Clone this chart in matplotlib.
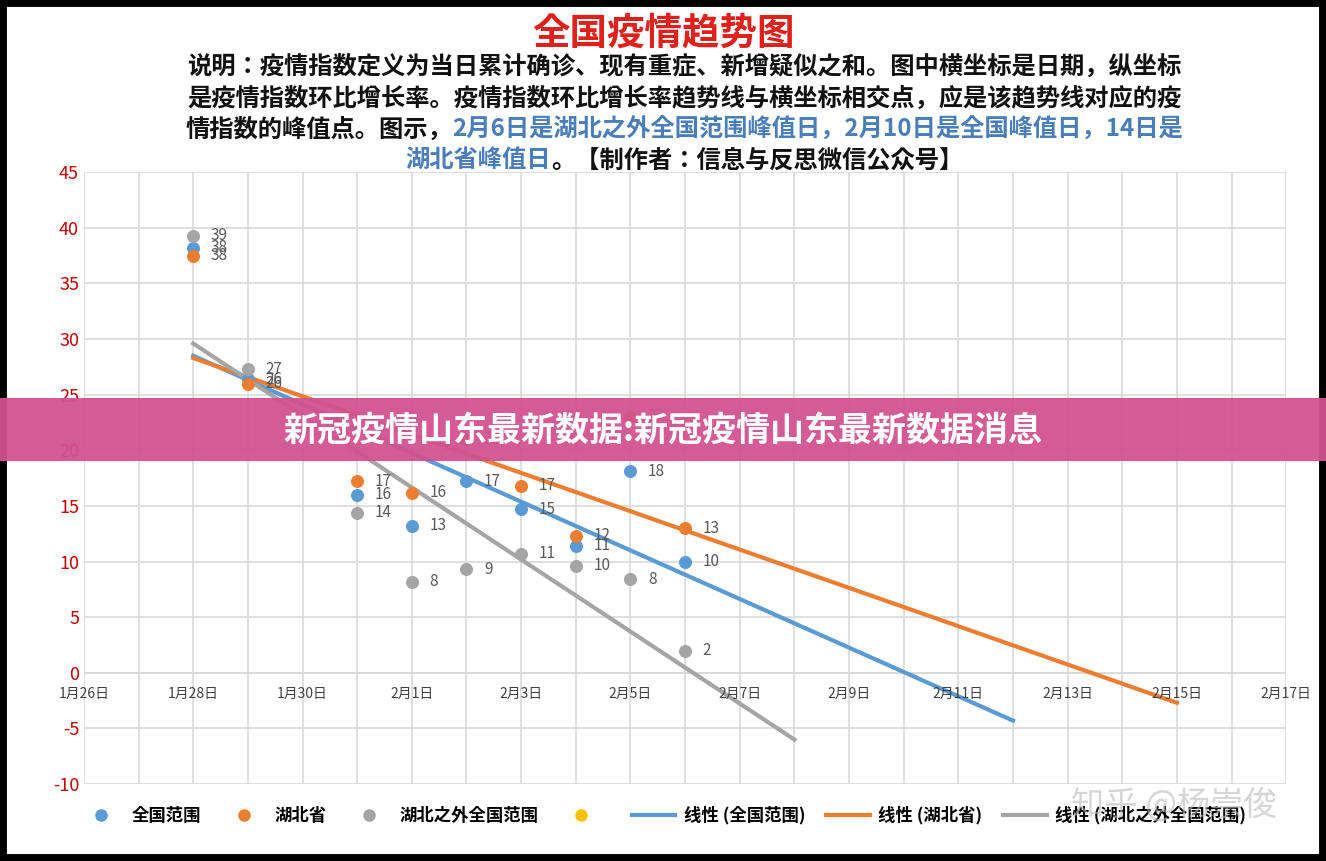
import matplotlib
matplotlib.use("Agg")
import matplotlib.pyplot as plt
import numpy as np
from matplotlib.offsetbox import TextArea, HPacker, VPacker, AnchoredOffsetbox
from matplotlib.patches import Rectangle
from matplotlib import font_manager as fm

names = {f.name for f in fm.fontManager.ttflist}
cjk = next((n for n in ["Noto Sans CJK SC", "Noto Sans CJK JP", "Noto Sans CJK TC", "Noto Sans CJK KR"] if n in names), "DejaVu Sans")
plt.rcParams["font.family"] = [cjk, "DejaVu Sans"]

nan = float("nan")
# day offsets from Jan 26
days = [2, 3, 4, 5, 6, 7, 8, 9, 10, 11]
national = [38.2, 26.4, nan, 16, 13.2, 17.2, 14.7, 11.4, 18.1, 10]
hubei = [37.5, 26, 22, 17.2, 16.2, 21, 16.8, 12.3, 23, 13]
outside = [39.3, 27.3, nan, 14.4, 8.2, 9.3, 10.7, 9.6, 8.4, 2]
nat_lbl = [38, 26, 21, 16, 13, 17, 15, 11, 18, 10]
hub_lbl = [38, 26, 22, 17, 16, 21, 17, 12, 23, 13]
out_lbl = [39, 27, 20, 14, 8, 9, 11, 10, 8, 2]
# trendline endpoints (day, value)
trend_nat = ([2, 17], [28.5, -4.3])
trend_hub = ([2, 20], [28.3, -2.7])
trend_out = ([2, 13], [29.6, -6.0])
xtick_labels = ["1月26日", "1月28日", "1月30日", "2月1日", "2月3日", "2月5日",
                "2月7日", "2月9日", "2月11日", "2月13日", "2月15日", "2月17日"]

BLUE, ORANGE, GRAY, YELLOW = "#5B9BD5", "#ED7D31", "#A5A5A5", "#FFC000"

fig = plt.figure(figsize=(13.26, 8.61), dpi=100)
fig.patches.append(Rectangle((0, 0), 1, 1, transform=fig.transFigure, fill=False,
                             edgecolor="black", linewidth=10))
ax = fig.add_axes([0.0633, 0.0894, 0.9067, 0.7106])
ax.set_xlim(0, 22)
ax.set_ylim(-10, 45)
ax.set_xticks(range(0, 23, 2))
ax.set_xticks(range(0, 23, 1), minor=True)
ax.set_yticks(range(-10, 46, 5))
ax.grid(True, which="both", color="#D9D9D9", linewidth=1.2)
ax.tick_params(which="both", length=0)
ax.set_xticklabels([])
for i, lab in enumerate(xtick_labels):
    ax.text(i * 2, -1.3, lab, ha="center", va="top", fontsize=10, color="#404040",
            clip_on=False)
ax.set_yticklabels([str(v) for v in range(-10, 46, 5)], color="#C00000", fontsize=13)
for s in ax.spines.values():
    s.set_visible(False)
ax.axhline(0, color="#D9D9D9", linewidth=1.2)

ax.plot(*trend_nat, color=BLUE, lw=3, zorder=2)
ax.plot(*trend_hub, color=ORANGE, lw=3, zorder=2)
ax.plot(*trend_out, color=GRAY, lw=3, zorder=2)
for ys, ls, c in [(national, nat_lbl, BLUE), (hubei, hub_lbl, ORANGE), (outside, out_lbl, GRAY)]:
    ax.scatter(days, ys, s=70, color=c, zorder=3)
    for d, y, l in zip(days, ys, ls):
        if not np.isnan(y):
            ax.text(d + 0.32, y, str(l), fontsize=11, color="#595959", va="center", zorder=4)

handles = [
    plt.Line2D([], [], marker="o", ls="", color=BLUE, ms=8),
    plt.Line2D([], [], marker="o", ls="", color=ORANGE, ms=8),
    plt.Line2D([], [], marker="o", ls="", color=GRAY, ms=8),
    plt.Line2D([], [], marker="o", ls="", color=YELLOW, ms=8),
    plt.Line2D([], [], color=BLUE, lw=3),
    plt.Line2D([], [], color=ORANGE, lw=3),
    plt.Line2D([], [], color=GRAY, lw=3),
]
labels = ["全国范围", "湖北省", "湖北之外全国范围", "", "线性 (全国范围)", "线性 (湖北省)", "线性 (湖北之外全国范围)"]
fig.legend(handles, labels, loc="center", bbox_to_anchor=(0.5, 0.053), ncol=7,
           frameon=False, handlelength=2.5, columnspacing=1.2, handletextpad=0.5,
           prop={"family": cjk, "weight": "bold", "size": 12.5})

fig.text(0.5, 0.962, "全国疫情趋势图", ha="center", va="center", fontsize=27,
         color="#E0201B", fontweight="bold")

def ta(s, c):
    return TextArea(s, textprops=dict(color=c, fontsize=17.5, fontweight="bold"))
K, B2 = "#111111", "#4A7EBB"
rows = [
    HPacker(children=[ta("说明：疫情指数定义为当日累计确诊、现有重症、新增疑似之和。图中横坐标是日期，纵坐标", K)], pad=0, sep=0),
    HPacker(children=[ta("是疫情指数环比增长率。疫情指数环比增长率趋势线与横坐标相交点，应是该趋势线对应的疫", K)], pad=0, sep=0),
    HPacker(children=[ta("情指数的峰值点。图示，", K), ta("2月6日是湖北之外全国范围峰值日，2月10日是全国峰值日，14日是", B2)], pad=0, sep=0),
    HPacker(children=[ta("湖北省峰值日", B2), ta("。【制作者：信息与反思微信公众号】", K)], pad=0, sep=0),
]
vp = VPacker(children=rows, align="center", pad=0, sep=5)
ab = AnchoredOffsetbox(loc="center", child=vp, frameon=False,
                       bbox_to_anchor=(0.516, 0.868), bbox_transform=fig.transFigure, pad=0)
fig.add_artist(ab)

fig.patches.append(Rectangle((0, 1 - 461 / 861), 1, 63 / 861, transform=fig.transFigure,
                             facecolor="#D2528F", alpha=0.95, zorder=10))
fig.text(0.5, 1 - 431 / 861, "新冠疫情山东最新数据:新冠疫情山东最新数据消息", ha="center",
         va="center", fontsize=24.5, color="white", fontweight="bold", zorder=11)
fig.text(0.885, 0.065, "知乎 @杨崇俊", ha="center", va="center", fontsize=24,
         color="#BBBBBB", alpha=0.6, zorder=11)

fig.savefig("out.png", dpi=100)
